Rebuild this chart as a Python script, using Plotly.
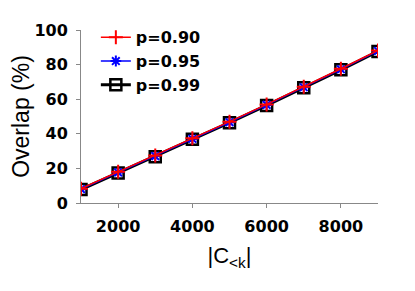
import plotly.graph_objects as go

sizes = [1000, 2000, 3000, 4000, 5000, 6000, 7000, 8000, 9000]
p090 = [8.3, 18.0, 27.4, 37.4, 47.0, 57.0, 67.2, 77.6, 88.2]
p095 = [8.0, 17.7, 27.1, 37.1, 46.7, 56.7, 66.9, 77.3, 87.9]
p099 = [7.8, 17.4, 26.8, 36.8, 46.4, 56.4, 66.6, 77.0, 87.6]
yticks = [0, 20, 40, 60, 80, 100]
xticks = [2000, 4000, 6000, 8000]

fig = go.Figure()
fig.add_trace(go.Scatter(x=sizes, y=p099, name="p=0.99", mode="lines+markers",
                         line=dict(color="black", width=3),
                         marker=dict(symbol="square-open", size=11, color="black", line=dict(width=2.5))))
fig.add_trace(go.Scatter(x=sizes, y=p095, name="p=0.95", mode="lines+markers",
                         line=dict(color="blue", width=1.5),
                         marker=dict(symbol="asterisk-open", size=9, color="blue", line=dict(width=2))))
fig.add_trace(go.Scatter(x=sizes, y=p090, name="p=0.90", mode="lines+markers",
                         line=dict(color="red", width=1.5),
                         marker=dict(symbol="cross-thin-open", size=10, color="red", line=dict(width=2))))

tickfont = dict(size=16, family="DejaVu Sans", weight="bold", color="black")

fig.update_layout(
    width=407, height=283,
    margin=dict(l=73, r=37, t=16, b=88),
    plot_bgcolor="white", paper_bgcolor="white",
    font=dict(family="Liberation Sans, Arial", color="black"),
    showlegend=True,
    legend=dict(x=0.05, y=1.056, xanchor="left", yanchor="top", traceorder="reversed",
                font=dict(size=16, family="DejaVu Sans", weight="bold"),
                bgcolor="rgba(0,0,0,0)", itemwidth=30, tracegroupgap=0),
    xaxis=dict(range=[1000, 9000], tickvals=xticks, ticks="outside", ticklen=4, tickcolor="#888",
               showline=True, linecolor="#888", linewidth=1, showgrid=False, zeroline=False,
               tickfont=tickfont, ticklabelstandoff=5, automargin=False,
               title=dict(text="|C<sub>&lt;k</sub>|", font=dict(size=22), standoff=12)),
    yaxis=dict(range=[0, 100], tickvals=yticks, ticks="outside", ticklen=4, tickcolor="#888",
               showline=True, linecolor="#888", linewidth=1, showgrid=False, zeroline=False,
               tickfont=tickfont, ticklabelstandoff=5, automargin=False,
               title=dict(text="Overlap (%)", font=dict(size=23), standoff=6)),
)
fig.write_html("out.html")
